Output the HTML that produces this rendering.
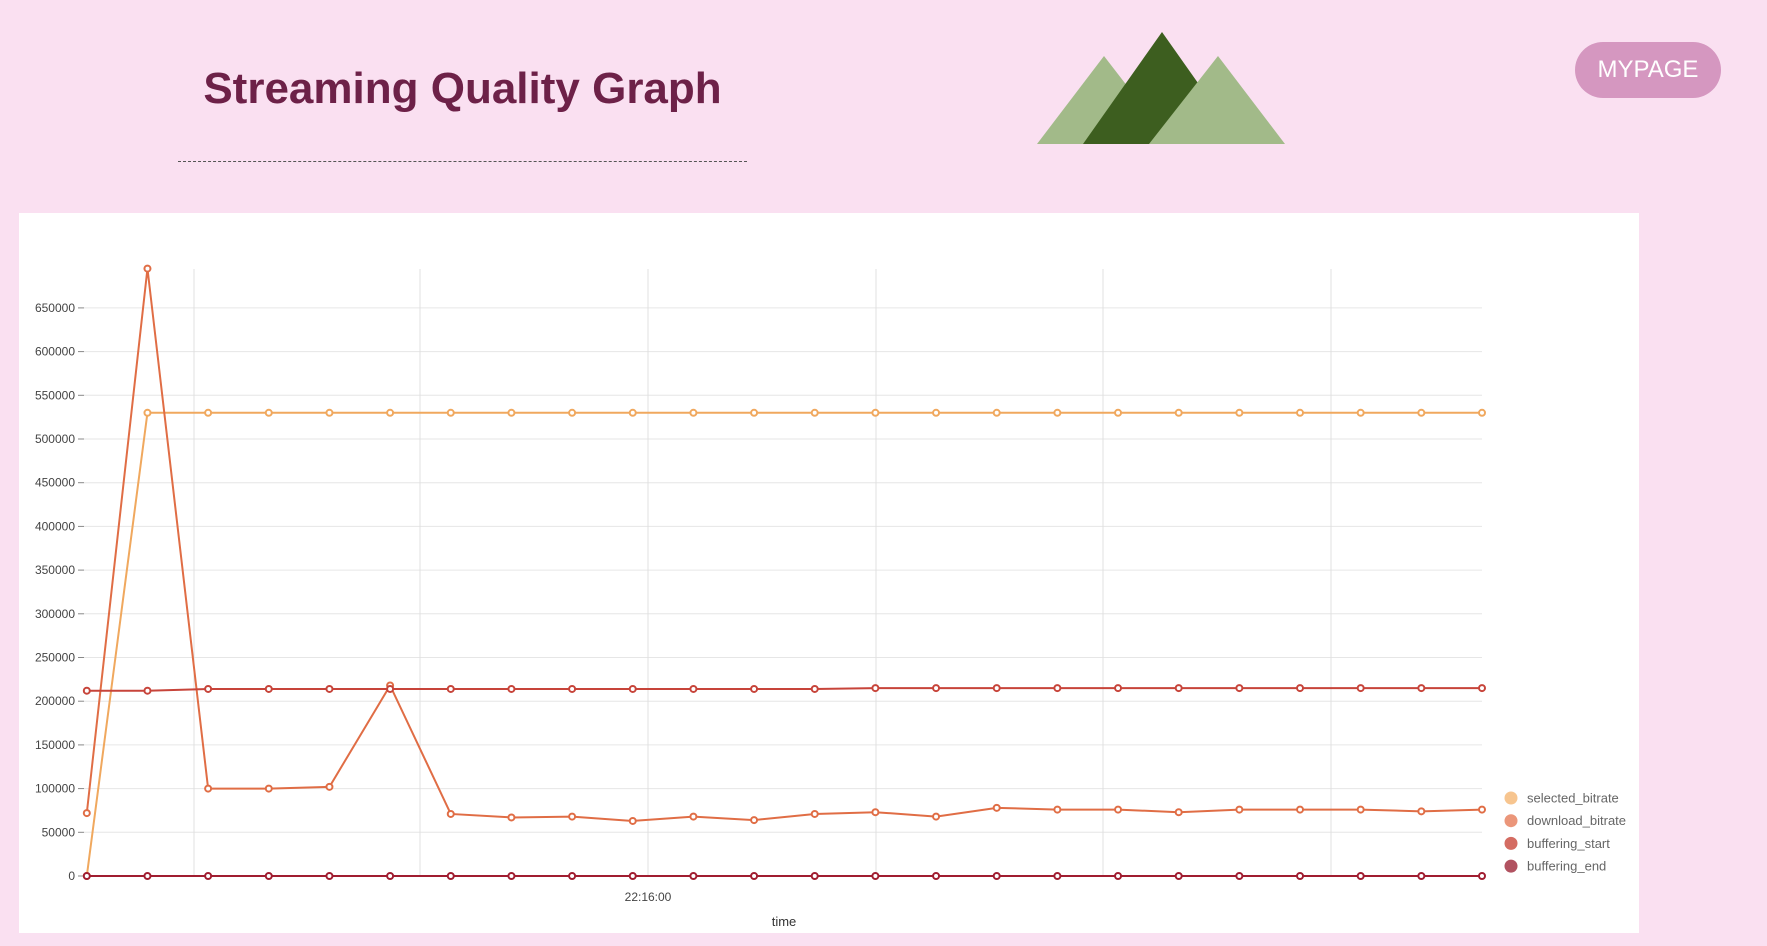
<!DOCTYPE html>
<html><head><meta charset="utf-8"><style>
body{margin:0;width:1767px;height:946px;background:#fae0f1;font-family:"Liberation Sans",sans-serif;position:relative;overflow:hidden}
#title{position:absolute;left:150px;top:64px;width:625px;text-align:center;font-weight:bold;font-size:44px;color:#6d2148;margin:0}
#rule{position:absolute;left:178px;top:161px;width:569px;border-top:1px dashed #555}
#btn{position:absolute;left:1575px;top:42px;width:146px;height:56px;border-radius:28px;background:#d597c0;color:#fff;font-size:24px;line-height:56px;text-align:center}
#panel{position:absolute;left:19px;top:213px;width:1620px;height:720px;background:#fff}
svg{position:absolute;left:0;top:0}
</style></head><body>
<h1 id="title">Streaming Quality Graph</h1>
<div id="rule"></div>
<svg width="1767" height="200">
<polygon points="1037,144 1104,56 1172,144" fill="#a2ba89"/>
<polygon points="1083,144 1162,32 1241,144" fill="#3d5e1f"/>
<polygon points="1149,144 1218,56 1285,144" fill="#a2ba89"/>
</svg>
<div id="btn">MYPAGE</div>
<div id="panel"></div>
<svg id="chart" width="1767" height="946"></svg>
<script>
const yTicks=[0,50000,100000,150000,200000,250000,300000,350000,400000,450000,500000,550000,600000,650000];
const selected=[0,530000,530000,530000,530000,530000,530000,530000,530000,530000,530000,530000,530000,530000,530000,530000,530000,530000,530000,530000,530000,530000,530000,530000];
const download=[72000,695000,100000,100000,102000,218000,71000,67000,68000,63000,68000,64000,71000,73000,68000,78000,76000,76000,73000,76000,76000,76000,74000,76000];
const bufStart=[212000,212000,214000,214000,214000,214000,214000,214000,214000,214000,214000,214000,214000,215000,215000,215000,215000,215000,215000,215000,215000,215000,215000,215000];
const bufEnd=[0,0,0,0,0,0,0,0,0,0,0,0,0,0,0,0,0,0,0,0,0,0,0,0];
const legendNames=["selected_bitrate","download_bitrate","buffering_start","buffering_end"];
const xTickLabels=["","","22:16:00","","",""];
const NS="http://www.w3.org/2000/svg";
const svg=document.getElementById('chart');
const x0=86.8,x1=1482,y0=876,yPer=43.7/50000;
const n=download.length;
const X=i=>x0+i*(x1-x0)/(n-1);
const Y=v=>y0-v*yPer;
function mk(t,a){const e=document.createElementNS(NS,t);for(const k in a)e.setAttribute(k,a[k]);svg.appendChild(e);return e;}
yTicks.forEach(v=>{
 const g=mk('line',{x1:84,x2:x1,y1:Y(v),y2:Y(v),stroke:'#e6e6e6'});
 
 
 mk('line',{x1:78,x2:84,y1:Y(v),y2:Y(v),stroke:'#888'});
 const t=mk('text',{x:75,y:Y(v)+4,'text-anchor':'end','font-size':12,fill:'#444'});t.textContent=v;
 
 
});
const vx=[194,420,648,876,1103,1331];
xTickLabels.forEach((l,i)=>{
 const g=mk('line',{x1:vx[i],x2:vx[i],y1:269,y2:y0,stroke:'#e0e0e0'});
 
 
 if(l){const t=mk('text',{x:vx[i],y:901,'text-anchor':'middle','font-size':12,fill:'#444'});t.textContent=l;
 
 }
});
const xt=mk('text',{x:784,y:926,'text-anchor':'middle','font-size':13,fill:'#333'});xt.textContent='time';


const series=[[selected,'#f0a85e'],[download,'#e06d45'],[bufStart,'#c7443a'],[bufEnd,'#a01d30']];
series.forEach(([d,c],si)=>{
 const p=mk('polyline',{points:d.map((v,i)=>X(i)+','+Y(v)).join(' '),fill:'none',stroke:c,'stroke-width':2});
 
 
 d.forEach((v,i)=>{const m=mk('circle',{cx:X(i),cy:Y(v),r:3,fill:'#fff',stroke:c,'stroke-width':2});
 
 });
});
const lc=['#f7c58f','#eb967a','#d46c62','#b15260'];
legendNames.forEach((nm,i)=>{
 const y=798+i*22.7;
 const c=mk('circle',{cx:1511,cy:y,r:6.5,fill:lc[i]});
 
 
 const t=mk('text',{x:1527,y:y+4.5,'font-size':13,fill:'#666'});t.textContent=nm;
 
 
});
</script>
</body></html>
